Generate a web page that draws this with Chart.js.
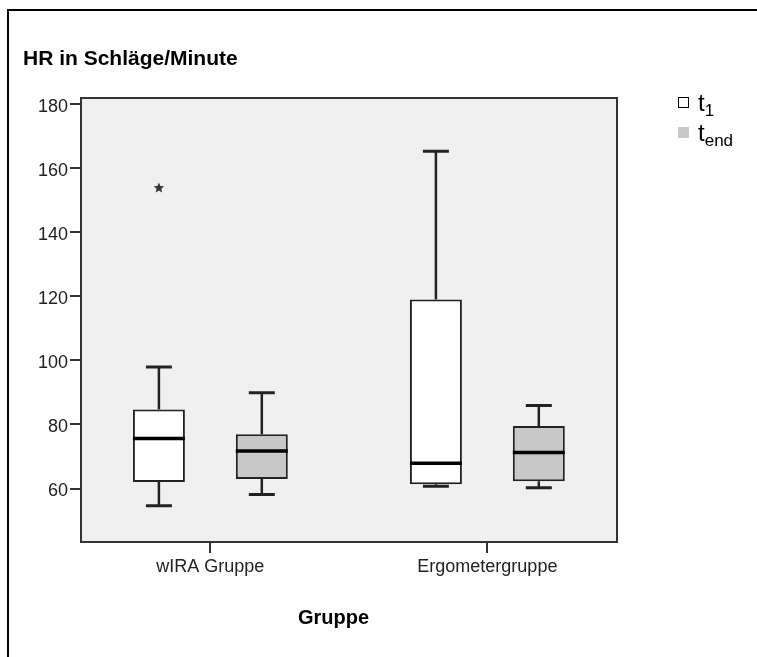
<!DOCTYPE html>
<html>
<head>
<meta charset="utf-8">
<title>HR in Schläge/Minute</title>
<script src="https://cdn.jsdelivr.net/npm/chart.js@4.4.1/dist/chart.umd.min.js"></script>
<style>
  body { margin: 0; background: #fff; }
  #wrap { position: relative; width: 757px; height: 657px; overflow: hidden; font-family: Arial, "Liberation Sans", sans-serif; }
  #frame { position: absolute; left: 7px; top: 9px; width: 800px; height: 700px; border-top: 2px solid #000; border-left: 2px solid #000; }
  #chart { position: absolute; left: 0; top: 0; }
  #xtitle { position: absolute; left: 298px; top: 606px; font-weight: bold; font-size: 20px; color: #000; }
  .sq { position: absolute; left: 678px; width: 11px; height: 11px; box-sizing: border-box; }
  .lt { position: absolute; left: 698px; font-size: 24px; line-height: 24px; color: #000; white-space: nowrap; }
  .lt sub { font-size: 17px; vertical-align: -5px; line-height: 0; }
</style>
</head>
<body>
<div id="wrap">
  <div id="frame"></div>
  <canvas id="chart" width="757" height="657"></canvas>
  <div id="xtitle">Gruppe</div>
  <div id="legend"></div>
</div>
<script>
document.addEventListener("DOMContentLoaded", function () {
  const groups = ['wIRA Gruppe', 'Ergometergruppe'];
  const yTicks = [60, 80, 100, 120, 140, 160, 180];

  // t1 box plot values per group
  const t1Min = [54.6, 60.7];
  const t1Q1 = [62.0, 61.3];
  const t1Median = [75.6, 67.9];
  const t1Q3 = [84.7, 119.0];
  const t1Max = [97.9, 165.3];
  const t1Outliers = [[153.8], []];

  // t_end box plot values per group
  const tEndMin = [58.1, 60.2];
  const tEndQ1 = [63.0, 62.3];
  const tEndMedian = [71.7, 71.2];
  const tEndQ3 = [76.9, 79.5];
  const tEndMax = [89.9, 85.9];
  const tEndOutliers = [[], []];

  const seriesNames = ['1', 'end'];   // subscripts of t
  const boxColors = ['#ffffff', '#c8c8c8'];

  Chart.defaults.font.family = 'Arial, "Liberation Sans", sans-serif';

  function boxDataset(label, color, q1, q3, stats) {
    return {
      label,
      data: groups.map((g, i) => ({ x: i, y: [q1[i], q3[i]] })),
      backgroundColor: color,
      borderColor: '#222',
      borderWidth: 2,
      borderSkipped: false,
      categoryPercentage: 0.743,
      barPercentage: 0.505,
      stats
    };
  }

  // plot background and frame
  const plotFrame = {
    id: 'plotFrame',
    beforeDraw(chart) {
      const { ctx, chartArea: a } = chart;
      ctx.save();
      ctx.fillStyle = '#f0f0f0';
      ctx.fillRect(a.left, a.top, a.right - a.left, a.bottom - a.top);
      ctx.restore();
    },
    afterDraw(chart) {
      const { ctx, chartArea: a } = chart;
      ctx.save();
      ctx.strokeStyle = '#333';
      ctx.lineWidth = 2;
      ctx.strokeRect(a.left, a.top, a.right - a.left, a.bottom - a.top);
      ctx.restore();
    }
  };

  function drawStar(ctx, cx, cy, r) {
    ctx.beginPath();
    for (let k = 0; k < 10; k++) {
      const rad = k % 2 === 0 ? r : r * 0.45;
      const ang = -Math.PI / 2 + k * Math.PI / 5;
      ctx.lineTo(cx + rad * Math.cos(ang), cy + rad * Math.sin(ang));
    }
    ctx.closePath();
    ctx.fill();
  }

  // whiskers, medians and outliers on top of the boxes
  const boxWhiskers = {
    id: 'boxWhiskers',
    afterDatasetsDraw(chart) {
      const { ctx } = chart;
      const y = chart.scales.y;
      ctx.save();
      ctx.strokeStyle = '#222';
      ctx.lineCap = 'butt';
      chart.data.datasets.forEach((ds, di) => {
        const s = ds.stats;
        chart.getDatasetMeta(di).data.forEach((bar, i) => {
          const { x, width } = bar.getProps(['x', 'width'], true);
          const half = width / 2;
          const cap = width / 4;
          const pMin = y.getPixelForValue(s.min[i]);
          const pMax = y.getPixelForValue(s.max[i]);
          const pQ1 = y.getPixelForValue(s.q1[i]);
          const pQ3 = y.getPixelForValue(s.q3[i]);
          const pMed = y.getPixelForValue(s.median[i]);

          ctx.lineWidth = 2.5;
          ctx.beginPath();
          ctx.moveTo(x, pQ3); ctx.lineTo(x, pMax);
          ctx.moveTo(x, pQ1); ctx.lineTo(x, pMin);
          ctx.stroke();

          ctx.lineWidth = 3;
          ctx.beginPath();
          ctx.moveTo(x - cap, pMax); ctx.lineTo(x + cap, pMax);
          ctx.moveTo(x - cap, pMin); ctx.lineTo(x + cap, pMin);
          ctx.stroke();

          ctx.strokeStyle = '#000';
          ctx.lineWidth = 3.5;
          ctx.beginPath();
          ctx.moveTo(x - half, pMed); ctx.lineTo(x + half, pMed);
          ctx.stroke();
          ctx.strokeStyle = '#222';

          ctx.fillStyle = '#333';
          s.outliers[i].forEach(v => drawStar(ctx, x, y.getPixelForValue(v), 5.5));
        });
      });
      ctx.restore();
    }
  };

  new Chart(document.getElementById('chart'), {
    type: 'bar',
    data: {
      datasets: [
        boxDataset('t1', boxColors[0], t1Q1, t1Q3,
          { min: t1Min, q1: t1Q1, median: t1Median, q3: t1Q3, max: t1Max, outliers: t1Outliers }),
        boxDataset('tend', boxColors[1], tEndQ1, tEndQ3,
          { min: tEndMin, q1: tEndQ1, median: tEndMedian, q3: tEndQ3, max: tEndMax, outliers: tEndOutliers })
      ]
    },
    options: {
      responsive: false,
      animation: false,
      layout: { padding: { left: 23, right: 140, top: 0, bottom: 0 } },
      plugins: {
        legend: { display: false },
        tooltip: { enabled: false },
        title: {
          display: true,
          text: 'HR in Schläge/Minute',
          align: 'start',
          color: '#000',
          font: { size: 21, weight: 'bold' },
          padding: { top: 47, bottom: 25.8 }
        }
      },
      scales: {
        x: {
          type: 'linear',
          min: -0.467,
          max: 1.468,
          offset: false,
          afterFit: (scale) => { scale.height = 115; },
          afterBuildTicks: (scale) => { scale.ticks = groups.map((g, i) => ({ value: i })); },
          grid: { drawOnChartArea: false, offset: false, color: '#333', lineWidth: 2, tickLength: 11 },
          border: { display: true, color: '#333', width: 2 },
          ticks: {
            callback: (v) => groups[v] ?? '',
            color: '#222',
            font: { size: 18 },
            padding: 3,
            maxRotation: 0
          }
        },
        y: {
          min: 43.3,
          max: 181.9,
          beginAtZero: false,
          afterFit: (scale) => { scale.width = 58; },
          afterBuildTicks: (scale) => { scale.ticks = yTicks.map(v => ({ value: v })); },
          grid: { drawOnChartArea: false, color: '#333', lineWidth: 2, tickLength: 11 },
          border: { display: true, color: '#333', width: 2 },
          ticks: { color: '#222', font: { size: 18 }, padding: 2, labelOffset: 3 }
        }
      }
    },
    plugins: [plotFrame, boxWhiskers]
  });

  // legend with subscripts
  const legend = document.getElementById('legend');
  seriesNames.forEach((name, i) => {
    const top = 97 + i * 30;
    const sq = document.createElement('div');
    sq.className = 'sq';
    sq.style.top = top + 'px';
    sq.style.background = boxColors[i];
    if (i === 0) sq.style.border = '1px solid #000';
    const txt = document.createElement('div');
    txt.className = 'lt';
    txt.style.top = (top - 6) + 'px';
    txt.innerHTML = 't<sub>' + name + '</sub>';
    legend.appendChild(sq);
    legend.appendChild(txt);
  });
});
</script>
</body>
</html>
